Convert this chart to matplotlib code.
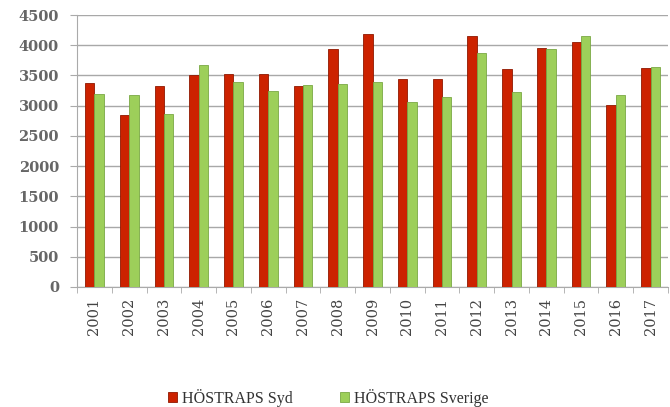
import matplotlib.pyplot as plt
import numpy as np

years = [str(y) for y in range(2001, 2018)]
syd = [3380, 2850, 3320, 3500, 3520, 3520, 3320, 3930, 4190, 3440,
       3440, 4150, 3600, 3960, 4060, 3010, 3620]
sverige = [3200, 3170, 2870, 3680, 3390, 3250, 3340, 3360, 3400, 3060,
           3140, 3880, 3220, 3940, 4160, 3170, 3640]
series_names = ["HÖSTRAPS Syd", "HÖSTRAPS Sverige"]
y_ticks = list(range(0, 4501, 500))

plt.rcParams["font.family"] = ["DejaVu Serif"]

fig = plt.figure(figsize=(6.7, 4.07), dpi=100)
ax = fig.add_axes([0.115, 0.295, 0.882, 0.668])

x = np.arange(len(years))
w = 0.27
ax.bar(x - w / 2, syd, width=w, color="#cc2200", edgecolor="#8f1800",
       linewidth=0.6, label=series_names[0], zorder=3)
ax.bar(x + w / 2, sverige, width=w, color="#9dcf5a", edgecolor="#7aa845",
       linewidth=0.6, label=series_names[1], zorder=3)

ax.set_xlim(-0.5, len(years) - 0.5)
ax.set_ylim(0, 4500)
ax.set_yticks(y_ticks)
ax.set_yticklabels([str(t) for t in y_ticks], fontsize=10.5, color="#666666",
                   fontweight="bold")
ax.yaxis.grid(True, color="#a8a8a8", linewidth=1.0, zorder=0)

ax.set_xticks(x)
ax.set_xticklabels(years, rotation=90, fontsize=10.5, color="#444444")
ax.set_xticks(np.arange(-0.5, len(years)), minor=True)
ax.tick_params(axis="x", which="major", length=0, pad=8)
ax.tick_params(axis="x", which="minor", length=4, color="#aaaaaa")
ax.tick_params(axis="y", length=5, color="#aaaaaa", pad=8)

for side in ["top", "right"]:
    ax.spines[side].set_visible(False)
ax.spines["left"].set_color("#aaaaaa")
ax.spines["bottom"].set_color("#aaaaaa")

fig.legend(loc="lower center", ncol=2, frameon=False,
           prop={"family": "Liberation Serif", "size": 11.5},
           bbox_to_anchor=(0.49, -0.035), handlelength=0.55, handleheight=0.55,
           columnspacing=3.0, handletextpad=0.3, labelcolor="#333333")

fig.savefig("out.png", dpi=100)
